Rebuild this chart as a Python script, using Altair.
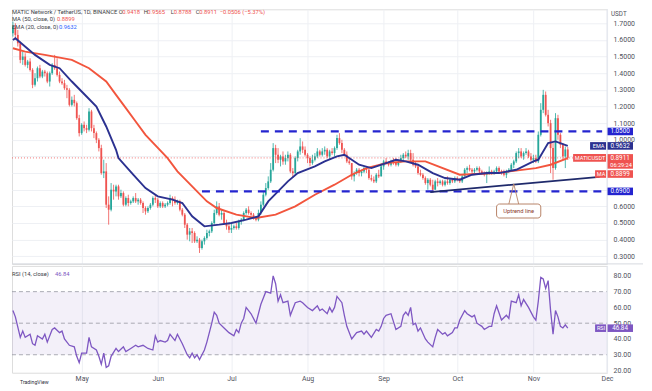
import altair as alt
import pandas as pd

# ---------------- data ----------------
START = "2022-04-03"
opens = [1.64,1.68,1.63,1.58,1.48,1.50,1.45,1.47,1.42,1.33,1.37,1.43,1.38,1.41,1.40,1.35,1.40,1.45,1.43,1.39,1.35,1.34,1.31,1.30,1.21,1.24,1.22,1.13,
         1.04,1.09,1.07,1.06,1.17,1.07,1.04,1.00,0.95,0.80,0.81,0.61,0.58,0.70,0.69,0.72,0.66,0.68,0.61,0.65,0.62,0.63,0.65,0.63,0.64,0.62,0.59,0.57,0.59,0.61,0.65,
         0.64,0.60,0.62,0.60,0.61,0.62,0.65,0.64,0.62,0.63,0.58,0.55,0.49,0.43,0.45,0.44,0.39,0.40,0.35,0.39,0.41,0.44,0.45,0.50,0.56,0.60,0.55,0.56,0.50,0.48,
         0.46,0.47,0.48,0.47,0.51,0.52,0.56,0.58,0.56,0.55,0.53,0.52,0.56,0.61,0.67,0.71,0.75,0.82,0.95,0.91,0.88,0.90,0.87,0.89,0.91,0.81,0.80,0.89,0.93,0.96,0.94,
         0.91,0.89,0.86,0.88,0.90,0.93,0.91,0.93,0.94,0.90,0.93,0.92,0.95,1.01,0.98,0.94,0.91,0.87,0.86,0.78,0.80,0.82,0.80,0.81,0.83,0.82,0.77,0.76,0.75,0.79,0.78,
         0.84,0.87,0.86,0.85,0.87,0.86,0.85,0.87,0.89,0.91,0.90,0.92,0.88,0.85,0.84,0.80,0.79,0.77,0.74,0.76,0.73,0.70,0.75,0.74,0.75,0.73,0.75,0.74,0.76,0.75,
         0.77,0.76,0.75,0.78,0.82,0.83,0.82,0.81,0.82,0.83,0.81,0.80,0.79,0.80,0.81,0.80,0.81,0.83,0.81,0.80,0.79,0.81,0.82,0.85,0.87,0.92,0.93,0.90,0.92,0.93,0.90,
         0.88,0.89,0.87,1.03,1.18,1.27,1.15,1.10,0.95,0.83,1.13,1.03,0.97,0.90,0.9418]
highs = [1.71,1.70,1.66,1.59,1.53,1.52,1.48,1.49,1.43,1.40,1.44,1.45,1.42,1.42,1.41,1.41,1.46,1.51,1.49,1.41,1.37,1.36,1.33,1.31,1.26,1.27,1.23,1.15,
         1.10,1.11,1.09,1.19,1.18,1.09,1.05,1.01,0.97,0.88,0.86,0.66,0.74,0.73,0.73,0.73,0.70,0.69,0.66,0.67,0.64,0.66,0.68,0.65,0.65,0.63,0.60,0.60,0.62,0.66,0.67,
         0.65,0.63,0.63,0.62,0.63,0.67,0.66,0.66,0.64,0.64,0.59,0.56,0.50,0.47,0.47,0.45,0.42,0.41,0.40,0.42,0.46,0.46,0.51,0.58,0.63,0.62,0.58,0.57,0.52,0.50,
         0.50,0.49,0.50,0.52,0.53,0.57,0.59,0.60,0.57,0.56,0.54,0.58,0.63,0.69,0.74,0.78,0.86,0.98,0.97,0.95,0.91,0.93,0.91,0.93,0.92,0.83,0.90,0.94,1.01,0.99,0.96,
         0.92,0.90,0.91,0.92,0.95,0.94,0.95,0.96,0.95,0.94,0.95,0.96,1.03,1.04,1.00,0.95,0.93,0.89,0.86,0.81,0.83,0.83,0.82,0.84,0.84,0.83,0.79,0.78,0.80,0.82,0.86,
         0.88,0.89,0.87,0.88,0.89,0.89,0.88,0.91,0.92,0.93,0.94,0.94,0.92,0.87,0.85,0.82,0.80,0.78,0.77,0.77,0.76,0.76,0.77,0.76,0.76,0.76,0.78,0.77,0.77,0.78,
         0.78,0.77,0.79,0.83,0.84,0.85,0.83,0.83,0.84,0.84,0.82,0.81,0.81,0.84,0.82,0.82,0.84,0.84,0.82,0.82,0.82,0.83,0.86,0.88,0.93,0.95,0.95,0.93,0.95,0.94,0.92,
         0.91,0.91,1.05,1.22,1.30,1.29,1.18,1.12,0.98,1.16,1.15,1.04,0.98,0.96,0.9565]
lows = [1.62,1.60,1.56,1.46,1.45,1.44,1.43,1.41,1.31,1.32,1.35,1.37,1.37,1.38,1.34,1.32,1.39,1.42,1.38,1.34,1.33,1.30,1.25,1.20,1.20,1.20,1.12,1.02,
        1.03,1.05,1.04,1.05,1.05,1.01,0.98,0.93,0.79,0.77,0.59,0.49,0.57,0.64,0.66,0.64,0.65,0.60,0.60,0.60,0.61,0.62,0.62,0.61,0.61,0.56,0.55,0.56,0.58,0.60,0.62,
        0.59,0.59,0.59,0.59,0.60,0.61,0.60,0.61,0.61,0.57,0.54,0.47,0.40,0.39,0.38,0.38,0.38,0.32,0.34,0.37,0.40,0.42,0.44,0.49,0.55,0.54,0.52,0.49,0.46,0.44,
        0.44,0.46,0.46,0.46,0.49,0.51,0.55,0.55,0.54,0.52,0.51,0.51,0.55,0.60,0.66,0.70,0.74,0.81,0.86,0.86,0.84,0.85,0.85,0.87,0.80,0.77,0.79,0.87,0.91,0.92,0.90,
        0.86,0.84,0.85,0.87,0.89,0.90,0.90,0.91,0.89,0.88,0.91,0.90,0.94,0.97,0.92,0.90,0.86,0.85,0.76,0.75,0.79,0.78,0.78,0.80,0.80,0.76,0.75,0.74,0.74,0.77,0.78,
        0.82,0.85,0.84,0.84,0.85,0.84,0.84,0.86,0.87,0.89,0.88,0.87,0.84,0.83,0.79,0.78,0.76,0.73,0.70,0.72,0.69,0.70,0.72,0.73,0.72,0.72,0.73,0.73,0.74,0.74,
        0.75,0.74,0.74,0.78,0.80,0.81,0.80,0.80,0.81,0.80,0.79,0.78,0.74,0.79,0.79,0.79,0.80,0.80,0.79,0.78,0.77,0.80,0.81,0.83,0.86,0.89,0.89,0.88,0.91,0.89,0.87,
        0.86,0.86,0.86,1.02,1.16,1.14,1.08,0.80,0.76,0.82,1.00,0.95,0.88,0.83,0.8788]
closes = [1.68,1.63,1.58,1.48,1.50,1.45,1.47,1.42,1.33,1.37,1.43,1.38,1.41,1.40,1.35,1.40,1.45,1.43,1.39,1.35,1.34,1.31,1.30,1.21,1.24,1.22,1.13,1.04,
          1.09,1.07,1.06,1.17,1.07,1.04,1.00,0.95,0.80,0.81,0.61,0.58,0.70,0.69,0.72,0.66,0.68,0.61,0.65,0.62,0.63,0.65,0.63,0.64,0.62,0.59,0.57,0.59,0.61,0.65,0.64,
          0.60,0.62,0.60,0.61,0.62,0.65,0.64,0.62,0.63,0.58,0.55,0.49,0.43,0.45,0.44,0.39,0.40,0.35,0.39,0.41,0.44,0.45,0.50,0.56,0.60,0.55,0.56,0.50,0.48,0.46,
          0.47,0.48,0.47,0.51,0.52,0.56,0.58,0.56,0.55,0.53,0.52,0.56,0.61,0.67,0.71,0.75,0.82,0.95,0.91,0.88,0.90,0.87,0.89,0.91,0.81,0.80,0.89,0.93,0.96,0.94,0.91,
          0.89,0.86,0.88,0.90,0.93,0.91,0.93,0.94,0.90,0.93,0.92,0.95,1.01,0.98,0.94,0.91,0.87,0.86,0.78,0.80,0.82,0.80,0.81,0.83,0.82,0.77,0.76,0.75,0.79,0.78,0.84,
          0.87,0.86,0.85,0.87,0.86,0.85,0.87,0.89,0.91,0.90,0.92,0.88,0.85,0.84,0.80,0.79,0.77,0.74,0.76,0.73,0.70,0.75,0.74,0.75,0.73,0.75,0.74,0.76,0.75,0.77,
          0.76,0.75,0.78,0.82,0.83,0.82,0.81,0.82,0.83,0.81,0.80,0.79,0.80,0.81,0.80,0.81,0.83,0.81,0.80,0.79,0.81,0.82,0.85,0.87,0.92,0.93,0.90,0.92,0.93,0.90,0.88,
          0.89,0.87,1.03,1.18,1.27,1.15,1.10,0.95,0.83,1.13,1.03,0.97,0.90,0.9418,0.8911]

ema_dates = ["2022-04-03","2022-04-04","2022-04-12","2022-04-18","2022-04-22","2022-04-27","2022-05-03","2022-05-07",
             "2022-05-11","2022-05-15","2022-05-16","2022-05-22","2022-05-27","2022-06-01","2022-06-07","2022-06-11",
             "2022-06-15","2022-06-20","2022-06-26","2022-07-01","2022-07-07","2022-07-12","2022-07-16","2022-07-20",
             "2022-07-24","2022-07-28","2022-08-04","2022-08-08","2022-08-13","2022-08-16","2022-08-22","2022-08-27",
             "2022-09-02","2022-09-06","2022-09-10","2022-09-15","2022-09-21","2022-09-26","2022-10-02","2022-10-07",
             "2022-10-13","2022-10-18","2022-10-25","2022-11-01","2022-11-03","2022-11-07","2022-11-10","2022-11-15"]
ema_vals = [1.60,1.61,1.51,1.45,1.43,1.35,1.26,1.20,1.08,0.94,0.89,0.79,0.71,0.66,0.64,0.62,
            0.54,0.48,0.49,0.50,0.52,0.54,0.63,0.69,0.75,0.80,0.84,0.87,0.90,0.91,0.85,0.83,
            0.86,0.88,0.87,0.85,0.80,0.77,0.76,0.79,0.80,0.80,0.82,0.87,0.88,0.98,0.99,0.9632]

ma_dates = ["2022-04-03","2022-04-08","2022-04-16","2022-04-27","2022-05-04","2022-05-11","2022-05-15","2022-05-19",
            "2022-05-23","2022-05-27","2022-06-05","2022-06-09","2022-06-13","2022-06-17","2022-06-21","2022-06-25",
            "2022-07-03","2022-07-11","2022-07-19","2022-07-27","2022-08-04","2022-08-12","2022-08-19","2022-08-25",
            "2022-09-02","2022-09-10","2022-09-18","2022-10-02","2022-10-17","2022-11-02","2022-11-08","2022-11-15"]
ma_vals = [1.55,1.53,1.51,1.48,1.43,1.35,1.27,1.19,1.11,1.03,0.89,0.81,0.75,0.69,0.63,0.59,
           0.55,0.53,0.55,0.60,0.67,0.73,0.79,0.83,0.86,0.87,0.87,0.79,0.80,0.83,0.85,0.8899]

rsi_points = [
    ("2022-04-03",58),("2022-04-04",54),("2022-04-06",41),("2022-04-07",45),("2022-04-08",41),("2022-04-10",43),
    ("2022-04-11",37),("2022-04-12",36),("2022-04-13",42),("2022-04-15",40),("2022-04-16",43),("2022-04-17",38),
    ("2022-04-19",46),("2022-04-20",47),("2022-04-22",44),("2022-04-23",45),("2022-04-24",40),("2022-04-26",36),
    ("2022-04-28",35),("2022-04-29",29),("2022-04-30",25),
    ("2022-05-01",31),("2022-05-03",31),("2022-05-04",41),("2022-05-05",35),("2022-05-07",33),("2022-05-08",29),
    ("2022-05-09",24),("2022-05-10",31),("2022-05-11",22),("2022-05-12",23),("2022-05-13",29),("2022-05-15",34),
    ("2022-05-16",32),("2022-05-18",35),("2022-05-19",32),("2022-05-21",34),("2022-05-23",36),("2022-05-24",35),
    ("2022-05-26",36),("2022-05-28",34),("2022-05-30",33),("2022-05-31",42),
    ("2022-06-01",38),("2022-06-02",39),("2022-06-04",38),("2022-06-05",39),("2022-06-06",43),("2022-06-08",39),
    ("2022-06-09",43),("2022-06-11",37),("2022-06-13",30),("2022-06-14",28),("2022-06-15",31),("2022-06-16",28),
    ("2022-06-17",30),("2022-06-18",27),("2022-06-20",33),("2022-06-21",38),("2022-06-23",50),("2022-06-24",57),
    ("2022-06-25",55),("2022-06-26",50),("2022-06-28",47),("2022-06-30",44),
    ("2022-07-02",42),("2022-07-03",46),("2022-07-04",44),("2022-07-05",50),("2022-07-06",53),("2022-07-07",60),
    ("2022-07-09",56),("2022-07-11",50),("2022-07-13",62),("2022-07-14",66),("2022-07-15",70),("2022-07-17",69),
    ("2022-07-18",80),("2022-07-19",75),("2022-07-20",64),("2022-07-21",68),("2022-07-22",63),("2022-07-24",64),
    ("2022-07-25",55),("2022-07-27",63),("2022-07-29",64),("2022-07-30",63),
    ("2022-08-01",60),("2022-08-03",58),("2022-08-05",61),("2022-08-06",58),("2022-08-07",59),("2022-08-09",56),
    ("2022-08-10",60),("2022-08-11",57),("2022-08-12",60),("2022-08-13",67),("2022-08-15",63),("2022-08-16",55),
    ("2022-08-17",48),("2022-08-19",40),("2022-08-21",44),("2022-08-23",45),("2022-08-24",43),("2022-08-25",45),
    ("2022-08-27",41),("2022-08-29",46),("2022-08-30",45),("2022-08-31",48),
    ("2022-09-01",53),("2022-09-02",55),("2022-09-04",56),("2022-09-05",51),("2022-09-06",46),("2022-09-08",48),
    ("2022-09-09",55),("2022-09-10",57),("2022-09-11",55),("2022-09-12",60),("2022-09-13",49),("2022-09-14",50),
    ("2022-09-15",45),("2022-09-16",47),("2022-09-18",40),("2022-09-19",38),("2022-09-21",35),("2022-09-22",41),
    ("2022-09-23",46),("2022-09-25",43),("2022-09-26",44),("2022-09-27",42),("2022-09-29",44),("2022-09-30",47),
    ("2022-10-01",47),("2022-10-02",52),("2022-10-04",58),("2022-10-05",56),("2022-10-07",54),("2022-10-08",55),
    ("2022-10-09",50),("2022-10-11",48),("2022-10-12",46),("2022-10-14",48),("2022-10-15",48),("2022-10-16",56),
    ("2022-10-17",61),("2022-10-19",52),("2022-10-21",55),("2022-10-22",53),("2022-10-23",64),("2022-10-25",63),
    ("2022-10-26",68),("2022-10-27",61),("2022-10-28",65),("2022-10-30",60),
    ("2022-11-01",54),("2022-11-02",52),("2022-11-03",64),("2022-11-04",79),("2022-11-05",78),("2022-11-06",72),
    ("2022-11-07",77),("2022-11-08",58),("2022-11-09",43),("2022-11-10",58),("2022-11-11",54),("2022-11-12",48),
    ("2022-11-13",47),("2022-11-14",49),("2022-11-15",46.84)]

level_prices = [1.05, 0.69]
level_starts = ["2022-07-13", "2022-06-19"]
level_end = "2022-11-29"
trend_dates = ["2022-09-20", "2022-11-28"]
trend_prices = [0.686, 0.777]
last_close = 0.8911
ema_last = 0.9632
ma_last = 0.8899
rsi_last = 46.84
price_ticks = [round(0.3 + 0.1 * i, 1) for i in range(15)]
rsi_ticks = [20, 30, 40, 50, 60, 70, 80]

# ---------------- styling ----------------
W, HP, HR = 596, 255, 107
FONT = "Roboto"
GREEN, RED = "#26a69a", "#ef5350"
EMA_C, MA_C = "#2b3190", "#f2553d"
LEVEL_C, TREND_C = "#2424cf", "#1f2a6b"
PURPLE = "#7e57c2"
GRID = "#eef0f4"
TXT = "#4f525c"

dates = pd.date_range(START, periods=len(closes), freq="D").strftime("%Y-%m-%d")
candles = pd.DataFrame({"date": dates, "open": opens, "high": highs, "low": lows, "close": closes})
ema_df = pd.DataFrame({"date": ema_dates, "v": ema_vals})
ma_df = pd.DataFrame({"date": ma_dates, "v": ma_vals})
rsi_df = pd.DataFrame(rsi_points, columns=["date", "v"])
lev_df = pd.DataFrame({"start": level_starts, "end": [level_end] * 2, "p": level_prices})
trend_df = pd.DataFrame({"date": trend_dates, "p": trend_prices})

month_vals = [alt.DateTime(year=2022, month=m, date=1, utc=True) for m in range(5, 13)]
XS = alt.Scale(type="utc", domain=[alt.DateTime(year=2022, month=4, date=2, hours=15, utc=True),
                                   alt.DateTime(year=2022, month=12, date=1, utc=True)])
X_HID = alt.Axis(values=month_vals, labels=False, ticks=False, domain=False, grid=True,
                 gridColor=GRID, title=None)
X_BOT = alt.Axis(values=month_vals, format="%b", labelFont=FONT, labelFontSize=7, labelColor=TXT,
                 ticks=False, domain=False, grid=True, gridColor=GRID, title=None,
                 labelPadding=2, labelFlush=False)
PS = alt.Scale(domain=[0.2543, 1.784], nice=False, zero=False)
PA = alt.Axis(orient="right", values=price_ticks, grid=True, gridColor=GRID, ticks=False, domain=False,
              labelFont=FONT, labelFontSize=7, labelColor=TXT, labelPadding=6, title=None,
              labelExpr="(datum.value > 0.65 && datum.value < 0.95) ? '' : format(datum.value, '.4f')")
RS = alt.Scale(domain=[18.6, 86.33], nice=False, zero=False)
RA = alt.Axis(orient="right", values=rsi_ticks, format=".2f", grid=False, ticks=False, domain=False,
              labelFont=FONT, labelFontSize=7, labelColor=TXT, labelPadding=6, title=None)


def px(f):
    return alt.X(f, type="temporal", scale=XS, axis=X_HID)


def py(f):
    return alt.Y(f, type="quantitative", scale=PS, axis=PA)


def ry(f):
    return alt.Y(f, type="quantitative", scale=RS, axis=RA)


def txt(text, x, y, color, size=5.8, align="left", baseline="middle"):
    return alt.Chart(pd.DataFrame({"t": [text]})).mark_text(
        align=align, baseline=baseline, fontSize=size, font=FONT, color=color
    ).encode(x=alt.value(x), y=alt.value(y), text="t:N")


updown = alt.condition("datum.close >= datum.open", alt.value(GREEN), alt.value(RED))
base = alt.Chart(candles)
wicks = base.mark_rule(strokeWidth=0.8).encode(x=px("date"), y=py("low"), y2="high", color=updown)
bodies = base.mark_rule(strokeWidth=1.8).encode(x=px("date"), y=py("open"), y2="close", color=updown)

cur = alt.Chart(pd.DataFrame({"p": [last_close]})).mark_rule(
    color=RED, strokeDash=[1, 2], strokeWidth=0.8).encode(y=py("p"), x=alt.value(0), x2=alt.value(W))
ma_line = alt.Chart(ma_df).mark_line(color=MA_C, strokeWidth=1.9).encode(x=px("date"), y=py("v"))
ema_line = alt.Chart(ema_df).mark_line(color=EMA_C, strokeWidth=1.9).encode(x=px("date"), y=py("v"))
levels = alt.Chart(lev_df).mark_rule(color=LEVEL_C, strokeDash=[8, 6], strokeWidth=2.2).encode(
    x=px("start"), x2="end", y=py("p"))
trend = alt.Chart(trend_df).mark_line(color=TREND_C, strokeWidth=1.8).encode(x=px("date"), y=py("p"))

# callout "Uptrend line"
call_box = alt.Chart(pd.DataFrame({"a": ["2022-10-17"], "b": ["2022-11-04"], "t": [0.614], "u": [0.530]})).mark_rect(
    fill="white", stroke="#b88468", strokeWidth=1, cornerRadius=3).encode(x=px("a"), x2="b", y=py("t"), y2="u")
call_ptr = alt.Chart(pd.DataFrame({"date": ["2022-10-22", "2022-10-24", "2022-10-26"], "p": [0.614, 0.735, 0.614]})).mark_line(
    color="#b88468", strokeWidth=0.9).encode(x=px("date"), y=py("p"))
call_txt = alt.Chart(pd.DataFrame({"date": ["2022-10-26"], "p": [0.572], "s": ["Uptrend line"]})).mark_text(
    fontSize=5.8, font=FONT, color="#8a3b2c").encode(x=px("date"), y=py("p"), text="s:N")

# right-hand price tags
HH = 0.0228
tags = pd.DataFrame({
    "p": [1.05, ema_last, last_close, 0.7942, 0.69],
    "txt": ["1.0500", "0.9632", "0.8911", "0.8899", "0.6900"],
    "fill": [LEVEL_C, EMA_C, RED, RED, LEVEL_C],
})
tags["top"] = tags["p"] + HH
tags["bot"] = tags["p"] - HH
tags.loc[2, "bot"] = tags.loc[2, "p"] - HH - 0.042
tag_rect = alt.Chart(tags).mark_rect().encode(
    x=alt.value(W), x2=alt.value(W + 26), y=py("top"), y2="bot", fill=alt.Fill("fill:N", scale=None))
tag_text = alt.Chart(tags).mark_text(fontSize=6.3, font=FONT, color="white").encode(
    x=alt.value(W + 13), y=py("p"), text="txt:N")
names = pd.DataFrame({
    "p": [ema_last, last_close, 0.7942],
    "n": ["EMA", "MATICUSDT", "MA"],
    "x0": [579, 562, 584],
    "fill": [EMA_C, RED, RED],
})
names["top"] = names["p"] + HH
names["bot"] = names["p"] - HH
names["xc"] = (names["x0"] + W) / 2
name_rect = alt.Chart(names).mark_rect().encode(
    x=alt.X("x0:Q", scale=None), x2=alt.value(W - 1), y=py("top"), y2="bot", fill=alt.Fill("fill:N", scale=None))
name_text = alt.Chart(names).mark_text(fontSize=5.6, font=FONT, color="white").encode(
    x=alt.X("xc:Q", scale=None), y=py("p"), text="n:N")
clock = alt.Chart(pd.DataFrame({"p": [last_close], "s": ["06:29:24"]})).mark_text(
    fontSize=5.6, font=FONT, color="white", dy=7).encode(x=alt.value(W + 14), y=py("p"), text="s:N")

sep_v = alt.Chart(pd.DataFrame({"a": [0]})).mark_rule(color="#e0e3eb").encode(
    x=alt.value(W), y=alt.value(0), y2=alt.value(HP))
sep_h = alt.Chart(pd.DataFrame({"a": [0]})).mark_rule(color="#d6d9e0").encode(
    x=alt.value(0), x2=alt.value(W + 36), y=alt.value(HP))

legend = [
    txt("MATIC Network / TetherUS, 1D, BINANCE", 0, 3, "#3a3d46"),
    txt("O", 107, 3, "#3a3d46"), txt("0.9418", 110.5, 3, RED),
    txt("H", 132, 3, "#3a3d46"), txt("0.9565", 135.5, 3, RED),
    txt("L", 159, 3, "#3a3d46"), txt("0.8788", 162, 3, RED),
    txt("C", 184, 3, "#3a3d46"), txt("0.8911", 187.5, 3, RED),
    txt("\u22120.0506 (\u22125.37%)", 208, 3, RED),
    txt("MA (50, close, 0)", 0, 9.5, "#3a3d46"), txt(str(ma_last), 45, 9.5, RED),
    txt("EMA (20, close, 0)", 0, 17.5, "#3a3d46"), txt(str(ema_last), 47, 17.5, "#2962ff"),
    txt("USDT", W + 4, 2, TXT, size=6.3, baseline="top"),
]

price = alt.layer(
    wicks, bodies, cur, ma_line, ema_line, levels, trend, call_ptr, call_box, call_txt,
    name_rect, name_text, tag_rect, tag_text, clock, sep_v, sep_h, *legend
).properties(width=W, height=HP)

# ---------------- RSI pane ----------------
band = alt.Chart(pd.DataFrame({"lo": [30], "hi": [70]})).mark_rect(color=PURPLE, opacity=0.09).encode(
    x=alt.value(0), x2=alt.value(W), y=ry("lo"), y2="hi")
dash = alt.Chart(pd.DataFrame({"v": [30, 50, 70]})).mark_rule(
    color="#9598a1", strokeDash=[4, 3], strokeWidth=0.8).encode(x=alt.value(0), x2=alt.value(W), y=ry("v"))
rsi_line = alt.Chart(rsi_df).mark_line(color=PURPLE, strokeWidth=1.3).encode(
    x=alt.X("date:T", scale=XS, axis=X_BOT), y=ry("v"))
rsi_tag = pd.DataFrame({"v": [rsi_last], "s": ["46.84"], "n": ["RSI"]})
rsi_tag["top"] = rsi_tag["v"] + 2.4
rsi_tag["bot"] = rsi_tag["v"] - 2.4
rt_rect = alt.Chart(rsi_tag).mark_rect(color=PURPLE).encode(
    x=alt.value(W), x2=alt.value(W + 26), y=ry("top"), y2="bot")
rn_rect = alt.Chart(rsi_tag).mark_rect(color=PURPLE).encode(
    x=alt.value(584), x2=alt.value(W - 1), y=ry("top"), y2="bot")
rt_text = alt.Chart(rsi_tag).mark_text(fontSize=6.3, font=FONT, color="white").encode(
    x=alt.value(W + 13), y=ry("v"), text="s:N")
rn_text = alt.Chart(rsi_tag).mark_text(fontSize=5.6, font=FONT, color="white").encode(
    x=alt.value(590), y=ry("v"), text="n:N")
rsi_sep = alt.Chart(pd.DataFrame({"a": [0]})).mark_rule(color="#e0e3eb").encode(
    x=alt.value(W), y=alt.value(0), y2=alt.value(HR))
rsi_legend = [
    txt("RSI (14, close)", 0, 8, "#3a3d46"),
    txt(str(rsi_last), 43, 8, PURPLE),
    txt("TradingView", 8, HR + 12, "#2a2e39", size=5.2, baseline="bottom"),
]
rsi = alt.layer(band, dash, rsi_line, rn_rect, rt_rect, rn_text, rt_text, rsi_sep, *rsi_legend).properties(
    width=W, height=HR)

chart = alt.vconcat(price, rsi, spacing=0).properties(
    padding={"left": 0, "top": 0, "right": 0, "bottom": 0}
).configure_view(stroke=None).configure(background="white")

chart.save("out.html", embed_options={"renderer": "svg", "actions": False})
